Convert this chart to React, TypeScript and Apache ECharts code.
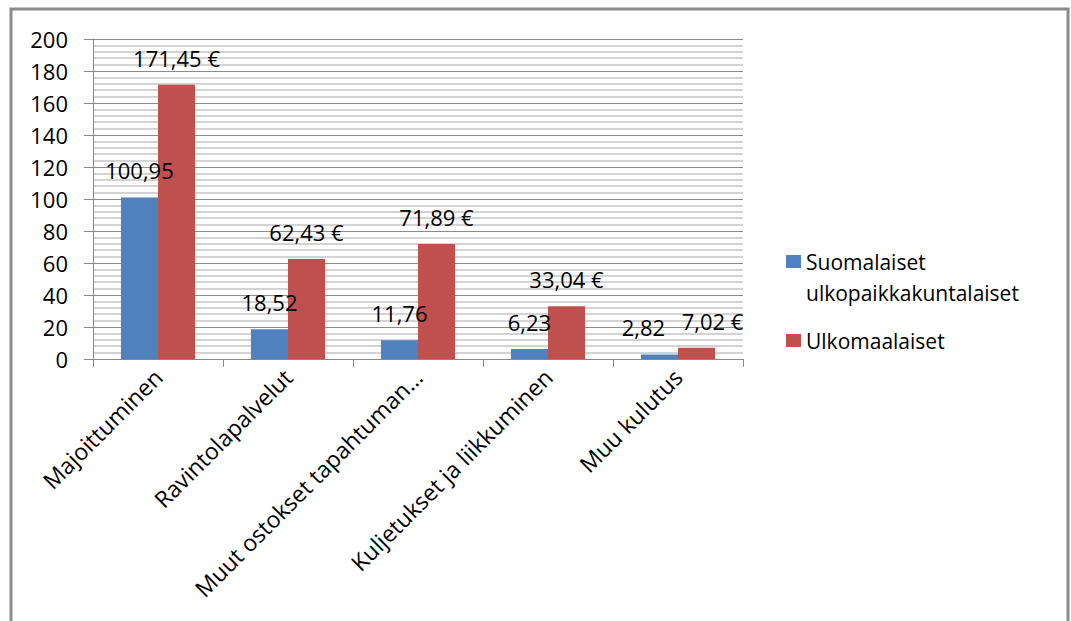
import React, { useEffect, useRef } from "react";
import * as echarts from "echarts";

const categories = [
  "Majoittuminen",
  "Ravintolapalvelut",
  "Muut ostokset tapahtuman…",
  "Kuljetukset ja liikkuminen",
  "Muu kulutus",
];
const seriesNames = ["Suomalaiset\nulkopaikkakuntalaiset", "Ulkomaalaiset"];
const domesticValues = [100.95, 18.52, 11.76, 6.23, 2.82];
const foreignValues = [171.45, 62.43, 71.89, 33.04, 7.02];
const yTicks = { min: 0, max: 200, interval: 20 };

// label nudges (style only) so that the last pair of labels does not collide, as in the original
const domesticLabelShift = [0, 0, 0, 0, -16];
const foreignLabelShift = [0, 0, 0, 0, 16];

const FONT = "'Open Sans', sans-serif";
const fmt = (v: number) => v.toFixed(2).replace(".", ",");

export default function App() {
  const ref = useRef<HTMLDivElement>(null);
  useEffect(() => {
    if (!ref.current) return;
    const chart = echarts.init(ref.current, undefined, { renderer: "svg" });
    const labelBase = {
      show: true,
      position: "top",
      distance: 16,
      color: "#000",
      fontSize: 22,
      fontFamily: FONT,
    };
    const mk = (vals: number[], shifts: number[]) =>
      vals.map((v, i) => ({ value: v, label: { offset: [shifts[i], 0] } }));
    chart.setOption({
      animation: false,
      backgroundColor: "#fff",
      textStyle: { fontFamily: FONT },
      graphic: [
        {
          type: "rect",
          shape: { x: 11, y: 9, width: 1057, height: 700 },
          style: { fill: "none", stroke: "#8c8c8c", lineWidth: 3 },
          silent: true,
        },
      ],
      grid: { left: 93, right: 328, top: 39, bottom: 262, containLabel: false },
      legend: {
        orient: "vertical",
        left: 786,
        top: 215,
        padding: 0,
        itemWidth: 15,
        itemHeight: 13,
        itemGap: 17,
        icon: "rect",
        data: seriesNames,
        formatter: (name: string) => (name === seriesNames[0] ? "\n" + name : name),
        textStyle: {
          fontSize: 21,
          lineHeight: 31,
          color: "#000",
          fontFamily: FONT,
        },
      },
      xAxis: {
        type: "category",
        data: categories,
        axisLine: { lineStyle: { color: "#888", width: 1 } },
        axisTick: { show: true, length: 8, alignWithLabel: false, lineStyle: { color: "#888" } },
        axisLabel: {
          rotate: 45,
          interval: 0,
          fontSize: 23,
          color: "#000",
          margin: 14,
          fontFamily: FONT,
        },
        splitLine: { show: false },
      },
      yAxis: {
        type: "value",
        min: yTicks.min,
        max: yTicks.max,
        interval: yTicks.interval,
        axisLine: { show: true, lineStyle: { color: "#888", width: 1 } },
        axisTick: { show: true, length: 9, lineStyle: { color: "#888" } },
        axisLabel: { fontSize: 22, color: "#000", margin: 25, fontFamily: FONT },
        splitLine: { show: true, lineStyle: { color: "#8c8c8c", width: 1 } },
        minorTick: { show: false, splitNumber: 5 },
        minorSplitLine: { show: true, lineStyle: { color: "#c4c4c4", width: 1.5 } },
      },
      series: [
        {
          name: seriesNames[0],
          type: "bar",
          data: mk(domesticValues, domesticLabelShift),
          barGap: "0%",
          barCategoryGap: "43%",
          itemStyle: { color: "#4f81bd" },
          label: { ...labelBase, formatter: (p: any) => fmt(p.value) },
        },
        {
          name: seriesNames[1],
          type: "bar",
          data: mk(foreignValues, foreignLabelShift),
          barGap: "0%",
          barCategoryGap: "43%",
          itemStyle: { color: "#c0504d" },
          label: { ...labelBase, formatter: (p: any) => fmt(p.value) + " €" },
        },
      ],
    });
    return () => chart.dispose();
  }, []);
  return (
    <div
      ref={ref}
      style={{ position: "fixed", left: 0, top: 0, width: 1071, height: 621 }}
    />
  );
}
